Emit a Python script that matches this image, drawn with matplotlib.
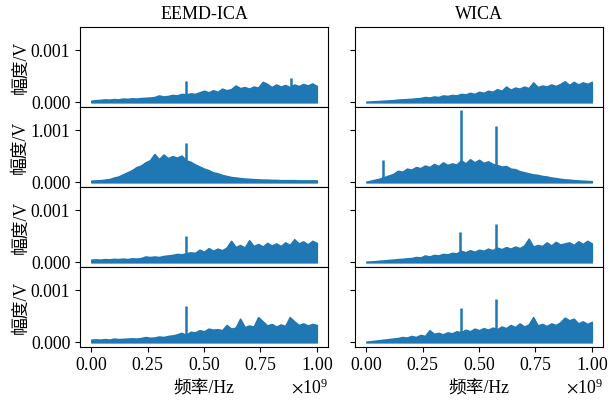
import matplotlib
matplotlib.use('Agg')
import matplotlib.pyplot as plt
import numpy as np
from matplotlib.ticker import FixedLocator, FixedFormatter, ScalarFormatter

plt.rcParams['font.family'] = ['Liberation Serif', 'Noto Sans CJK SC']
plt.rcParams['mathtext.fontset'] = 'stix'
plt.rcParams['font.size'] = 12.8

# frequency grid (x 1e9 Hz) and envelope values (x 1e-4 V)
freq = np.linspace(0, 1, 51)
scale = 1e-4

eemd_1 = [0.3, 0.4, 0.45, 0.55, 0.5, 0.6, 0.55, 0.7, 0.65, 0.75, 0.7, 0.8, 0.85, 0.9,
          1.0, 1.3, 1.1, 1.2, 1.4, 1.3, 1.6, 1.5, 1.7, 1.6, 1.9, 2.2, 1.9, 2.3, 2.0,
          2.6, 2.3, 2.5, 3.2, 2.7, 2.9, 2.6, 3.0, 2.8, 3.9, 3.5, 2.9, 3.4, 3.0, 3.3,
          2.9, 3.4, 3.1, 3.5, 3.2, 3.6, 3.1]
eemd_2 = [0.3, 0.35, 0.4, 0.5, 0.6, 0.9, 1.1, 1.5, 1.9, 2.3, 2.9, 3.2, 3.8, 4.2,
          5.4, 4.4, 5.3, 4.6, 5.0, 4.7, 5.1, 4.2, 3.9, 3.4, 3.0, 2.6, 2.3, 1.9, 1.7,
          1.4, 1.2, 1.0, 0.9, 0.8, 0.7, 0.65, 0.6, 0.55, 0.5, 0.5, 0.45, 0.45, 0.4,
          0.4, 0.4, 0.4, 0.35, 0.35, 0.35, 0.35, 0.35]
eemd_3 = [0.5, 0.55, 0.5, 0.6, 0.55, 0.65, 0.6, 0.7, 0.6, 0.75, 0.7, 0.8, 1.1, 1.0,
          1.1, 1.0, 1.2, 1.3, 1.4, 1.6, 1.5, 1.7, 1.9, 1.8, 2.4, 2.0, 2.7, 2.2, 2.6,
          2.3, 2.8, 4.1, 2.9, 3.3, 2.8, 4.2, 3.1, 3.5, 3.0, 3.7, 3.2, 3.6, 3.1, 3.8,
          3.3, 4.4, 3.6, 4.0, 3.4, 4.1, 3.7]
eemd_4 = [0.5, 0.55, 0.5, 0.6, 0.5, 0.7, 0.6, 0.65, 0.7, 0.75, 0.7, 0.8, 1.0, 0.85,
          0.9, 1.1, 1.0, 1.2, 1.3, 1.5, 1.8, 1.4, 2.0, 1.9, 2.3, 2.1, 2.6, 2.4, 2.5,
          2.3, 3.3, 2.6, 2.8, 4.5, 2.9, 3.2, 3.0, 4.8, 4.0, 3.2, 3.5, 3.0, 3.4, 3.1,
          4.8, 4.0, 3.3, 3.6, 3.2, 3.5, 3.3]
wica_1 = [0.1, 0.15, 0.2, 0.25, 0.3, 0.35, 0.4, 0.5, 0.55, 0.6, 0.65, 0.75, 0.8, 1.0,
          0.9, 1.1, 1.0, 1.3, 1.2, 1.4, 1.3, 1.6, 1.5, 1.8, 1.6, 2.0, 1.8, 2.2, 2.0,
          2.5, 2.2, 3.0, 2.4, 2.8, 2.6, 3.0, 2.7, 3.8, 2.9, 3.2, 3.0, 3.4, 3.1, 3.5,
          4.0, 3.3, 3.9, 3.4, 3.8, 3.5, 3.9]
wica_2 = [0.1, 0.3, 0.5, 0.7, 1.0, 1.3, 1.6, 2.2, 2.0, 2.6, 2.4, 2.9, 2.7, 3.2,
          2.9, 3.5, 3.1, 3.8, 3.3, 3.6, 3.4, 4.2, 3.6, 4.4, 3.8, 4.3, 3.7, 4.0, 3.5,
          3.3, 3.0, 3.1, 2.6, 2.5, 2.1, 1.9, 1.7, 1.5, 1.4, 1.2, 1.1, 0.9, 0.8, 0.65,
          0.55, 0.5, 0.4, 0.35, 0.3, 0.25, 0.2]
wica_3 = [0.1, 0.15, 0.2, 0.3, 0.35, 0.45, 0.5, 0.6, 0.65, 0.75, 0.8, 1.0, 0.9, 1.3,
          1.1, 1.4, 1.3, 1.6, 1.5, 1.8, 1.7, 2.2, 1.9, 2.3, 2.0, 2.4, 2.2, 2.6, 2.3,
          2.8, 2.5, 2.9, 2.6, 3.0, 2.7, 3.2, 4.5, 3.0, 3.3, 3.1, 3.8, 3.2, 3.9, 3.4,
          3.6, 3.8, 3.3, 4.0, 3.5, 4.1, 3.6]
wica_4 = [0.1, 0.2, 0.3, 0.4, 0.5, 0.6, 0.7, 0.8, 1.0, 0.9, 1.2, 1.0, 1.4, 1.2,
          2.3, 1.6, 1.8, 1.5, 1.9, 1.7, 2.1, 1.9, 2.4, 2.1, 2.6, 2.3, 2.7, 2.4, 2.8,
          2.5, 3.0, 2.7, 3.3, 2.9, 3.6, 3.0, 3.4, 4.8, 3.2, 3.5, 3.1, 3.6, 3.3, 3.8,
          4.7, 4.2, 4.5, 3.6, 4.0, 3.5, 3.9]

# narrow spectral lines: (frequency x 1e9 Hz, amplitude x 1e-4 V)
eemd_spike_f = [[0.42, 0.885], [0.42], [0.42], [0.42]]
eemd_spike_a = [[4.0, 4.6], [7.5], [5.0], [7.0]]
wica_spike_f = [[], [0.075, 0.418, 0.574], [0.417, 0.574], [0.418, 0.576]]
wica_spike_a = [[], [4.3, 13.8, 10.8], [5.8, 7.3], [6.5, 8.2]]

titles = ['EEMD-ICA', 'WICA']
ylabel = '幅度/V'
xlabel = '频率/Hz'
ytick_labels = [['0.000', '0.001'], ['0.000', '1.001'], ['0.000', '0.001'], ['0.000', '0.001']]

columns = [
    ([eemd_1, eemd_2, eemd_3, eemd_4], eemd_spike_f, eemd_spike_a),
    ([wica_1, wica_2, wica_3, wica_4], wica_spike_f, wica_spike_a),
]

fig, axes = plt.subplots(4, 2, figsize=(6.16, 4.0), dpi=100)
fig.subplots_adjust(left=0.130, right=0.979, top=0.9325, bottom=0.1325,
                    wspace=0.109, hspace=0)

color = '#1f77b4'
x = freq * 1e9
for c, (series, spk_f, spk_a) in enumerate(columns):
    for r in range(4):
        ax = axes[r, c]
        y = np.array(series[r]) * scale
        ax.fill_between(x, 0, y, color=color, edgecolor=color, linewidth=1.2)
        if spk_f[r]:
            ax.vlines(np.array(spk_f[r]) * 1e9, 0, np.array(spk_a[r]) * scale,
                      color=color, linewidth=1.8)
        ax.set_xlim(-0.05e9, 1.05e9)
        ax.set_ylim(-0.00009, 0.00144)
        ax.yaxis.set_major_locator(FixedLocator([0, 0.001]))
        if c == 0:
            ax.yaxis.set_major_formatter(FixedFormatter(ytick_labels[r]))
            ax.set_ylabel(ylabel, labelpad=1)
        else:
            ax.set_yticklabels([])
        ax.set_xticks([0, 0.25e9, 0.5e9, 0.75e9, 1.0e9])
        if r < 3:
            ax.tick_params(axis='x', bottom=False, labelbottom=False)
        else:
            fmt = ScalarFormatter(useMathText=True)
            fmt.set_powerlimits((0, 0))
            ax.xaxis.set_major_formatter(fmt)
            ax.set_xlabel(xlabel, labelpad=5)
        if r == 0:
            ax.set_title(titles[c], fontsize=13)

fig.savefig('out.png', dpi=100)
